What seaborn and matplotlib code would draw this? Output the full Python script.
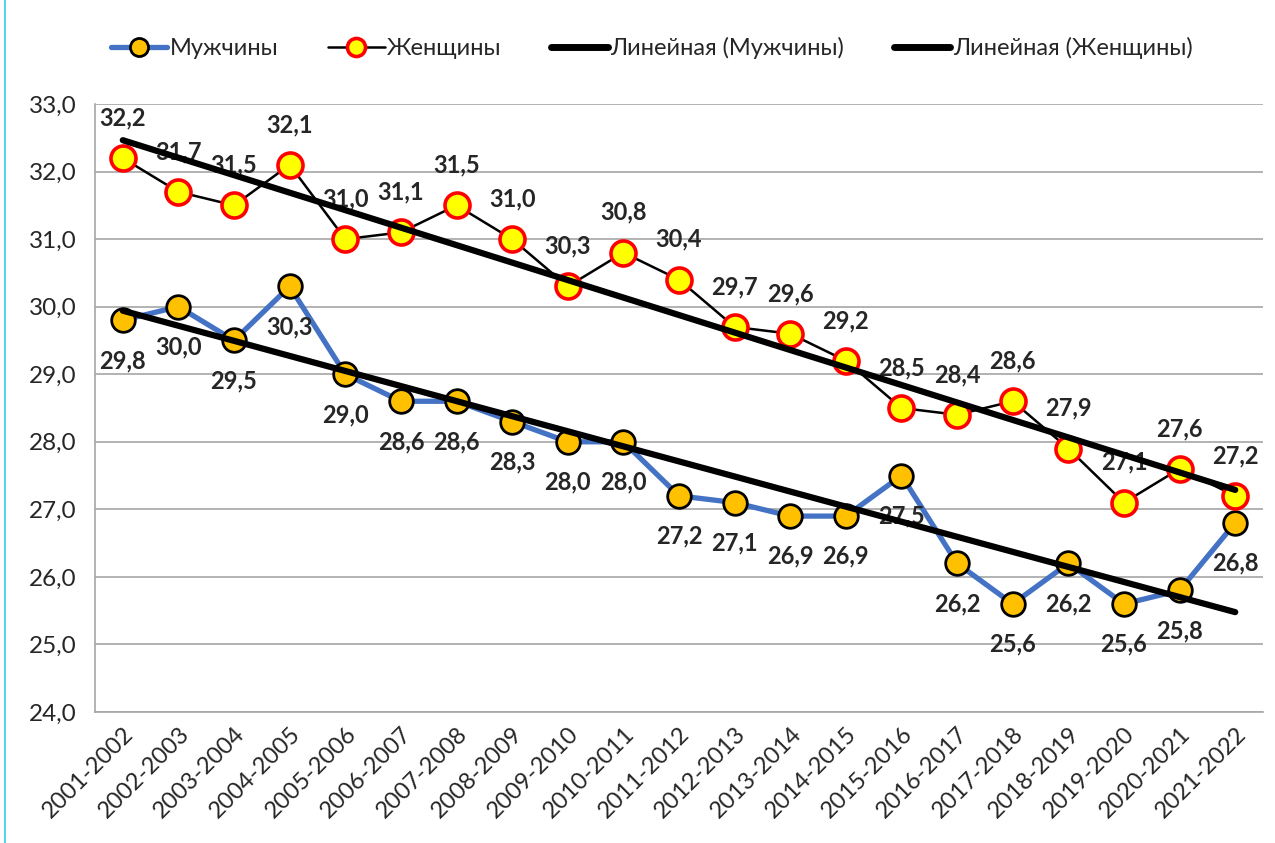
import matplotlib
matplotlib.use("Agg")
import matplotlib.pyplot as plt
import numpy as np
import pandas as pd
import seaborn as sns
from matplotlib.lines import Line2D

# --- data ---
SEASONS = ["2001-2002", "2002-2003", "2003-2004", "2004-2005", "2005-2006",
           "2006-2007", "2007-2008", "2008-2009", "2009-2010", "2010-2011",
           "2011-2012", "2012-2013", "2013-2014", "2014-2015", "2015-2016",
           "2016-2017", "2017-2018", "2018-2019", "2019-2020", "2020-2021",
           "2021-2022"]
MEN = [29.8, 30.0, 29.5, 30.3, 29.0, 28.6, 28.6, 28.3, 28.0, 28.0, 27.2,
       27.1, 26.9, 26.9, 27.5, 26.2, 25.6, 26.2, 25.6, 25.8, 26.8]
WOMEN = [32.2, 31.7, 31.5, 32.1, 31.0, 31.1, 31.5, 31.0, 30.3, 30.8, 30.4,
         29.7, 29.6, 29.2, 28.5, 28.4, 28.6, 27.9, 27.1, 27.6, 27.2]
Y_TICKS = [24.0, 25.0, 26.0, 27.0, 28.0, 29.0, 30.0, 31.0, 32.0, 33.0]
LABELS = ["Мужчины", "Женщины", "Линейная (Мужчины)", "Линейная (Женщины)"]

df = pd.DataFrame({"idx": np.arange(len(SEASONS)), "men": MEN, "women": WOMEN})

sns.set_theme(style="white")
plt.rcParams["font.family"] = ["Lato", "DejaVu Sans"]

fig = plt.figure(figsize=(12.75, 8.43), dpi=100)
ax = fig.add_axes([0.0745, 0.1554, 0.9161, 0.7212])

men_kw = dict(color="#4472C4", lw=3.8, marker="o", markersize=17,
              markerfacecolor="#FFC000", markeredgecolor="black", markeredgewidth=2)
women_kw = dict(color="black", lw=1.8, marker="o", markersize=18,
                markerfacecolor="#FFFF00", markeredgecolor="#FF0000", markeredgewidth=2.6)

sns.lineplot(data=df, x="idx", y="men", ax=ax, zorder=3, **men_kw)
sns.lineplot(data=df, x="idx", y="women", ax=ax, zorder=3, **women_kw)

# data labels: men below, women above
for i, v in enumerate(MEN):
    ax.annotate(f"{v:.1f}".replace(".", ","), (i, v), xytext=(0, -29),
                textcoords="offset points", ha="center", va="center",
                fontsize=17, fontweight="bold", zorder=4)
for i, v in enumerate(WOMEN):
    ax.annotate(f"{v:.1f}".replace(".", ","), (i, v), xytext=(0, 29),
                textcoords="offset points", ha="center", va="center",
                fontsize=17, fontweight="bold", zorder=4)

# linear trend lines on top
trend_kw = dict(scatter=False, ci=None, truncate=True, color="black",
                line_kws={"lw": 4.5, "zorder": 5, "solid_capstyle": "round"})
sns.regplot(data=df, x="idx", y="men", ax=ax, **trend_kw)
sns.regplot(data=df, x="idx", y="women", ax=ax, **trend_kw)

ax.set_xlim(-0.5, len(SEASONS) - 0.5)
ax.set_ylim(Y_TICKS[0], Y_TICKS[-1])
ax.set_yticks(Y_TICKS)
ax.set_yticklabels([f"{t:.1f}".replace(".", ",") for t in Y_TICKS], fontsize=17.5)
ax.set_xticks(np.arange(len(SEASONS)))
ax.set_xticklabels(SEASONS, rotation=45, ha="right", rotation_mode="anchor", fontsize=17)
ax.set_xticks(np.arange(len(SEASONS) + 1) - 0.5, minor=True)
ax.tick_params(axis="x", which="major", length=0, pad=8)
ax.tick_params(axis="x", which="minor", length=7, color="#a6a6a6", width=1.2, direction="out")
ax.tick_params(axis="y", length=8, color="#a6a6a6", width=1.2, direction="out", pad=5)
ax.set_xlabel("")
ax.set_ylabel("")
ax.grid(axis="y", color="#a6a6a6", lw=1.2)
ax.set_axisbelow(True)
for side in ["top", "right"]:
    ax.spines[side].set_visible(False)
for side in ["left", "bottom"]:
    ax.spines[side].set_color("#a6a6a6")
    ax.spines[side].set_linewidth(1.2)

handles = [
    Line2D([], [], **{**men_kw, "markersize": 13}),
    Line2D([], [], **{**women_kw, "markersize": 13}),
    Line2D([], [], color="black", lw=5),
    Line2D([], [], color="black", lw=5),
]
fig.legend(handles, LABELS, loc="center", bbox_to_anchor=(0.511, 0.943), ncol=4,
           frameon=False, fontsize=17, handlelength=2.4, handletextpad=0.1,
           columnspacing=2.1)

fig.add_artist(Line2D([0.004, 0.004], [0, 1], color="#33CCEE", lw=1.2))

fig.savefig("out.png", dpi=100)
